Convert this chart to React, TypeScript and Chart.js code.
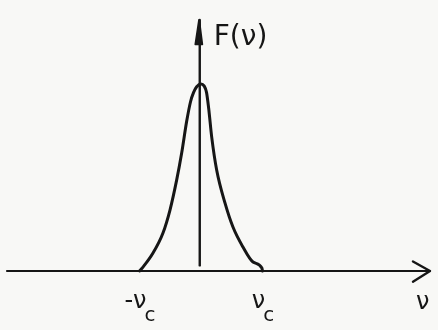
import React, { useEffect, useRef } from "react";
import { Chart, registerables } from "chart.js";

Chart.register(...registerables);

// Bell-shaped spectrum F(ν), in units of ν/ν_c, peak normalised to 1
const curveX = [-1, -0.943, -0.78, -0.618, -0.504, -0.395, -0.314, -0.233, -0.17, -0.12, -0.07, 0, 0.05, 0.09, 0.125, 0.174, 0.255, 0.39, 0.52, 0.683, 0.846, 0.99, 1];
const curveY = [0, 0.021, 0.096, 0.203, 0.326, 0.487, 0.631, 0.8, 0.905, 0.955, 0.985, 1, 0.99, 0.955, 0.87, 0.717, 0.54, 0.364, 0.235, 0.128, 0.048, 0.016, 0];

// Axis extents (data units)
const xAxisRange = [-3.154, 3.724];
const yAxisRange = [0.03, 1.342];
const vAxisX = -0.02;

// Tick labels on the ν axis
const tickValues = [-1, 1];
const tickLabels = ["-ν", "ν"];
const axisTitleX = "ν";
const axisTitleY = "F(ν)";

const ink = "#161616";

const labelsPlugin = {
  id: "sketchLabels",
  afterDatasetsDraw(chart: any) {
    const { ctx, scales } = chart;
    const xs = scales.x;
    const ys = scales.y;
    ctx.save();
    ctx.fillStyle = ink;
    ctx.textBaseline = "alphabetic";
    ctx.textAlign = "left";
    tickValues.forEach((v, i) => {
      const px = xs.getPixelForValue(v);
      const py = ys.getPixelForValue(0);
      const label = tickLabels[i];
      ctx.font = "24px 'DejaVu Sans'";
      const w = ctx.measureText(label).width;
      const left = px - w / 2 - 4;
      ctx.fillText(label, left, py + 37);
      ctx.font = "20px 'DejaVu Sans'";
      ctx.fillText("c", left + w - 2, py + 50);
    });
    ctx.font = "24px 'DejaVu Sans'";
    ctx.fillText(axisTitleX, xs.getPixelForValue(xAxisRange[1]) - 14, ys.getPixelForValue(0) + 38);
    ctx.font = "28px 'DejaVu Sans'";
    ctx.fillText(axisTitleY, xs.getPixelForValue(vAxisX) + 14, ys.getPixelForValue(yAxisRange[1]) + 25);
    ctx.restore();
  },
};

export default function App() {
  const ref = useRef<HTMLCanvasElement | null>(null);

  useEffect(() => {
    if (!ref.current) return;
    const curve = curveX.map((x, i) => ({ x, y: curveY[i] }));
    const line = (data: { x: number; y: number }[], width: number) => ({
      data,
      borderColor: ink,
      backgroundColor: ink,
      borderWidth: width,
      pointRadius: 0,
      tension: 0,
      fill: false as any,
      borderCapStyle: "round" as const,
      borderJoinStyle: "round" as const,
    });
    const chart = new Chart(ref.current, {
      type: "line",
      data: {
        datasets: [
          { ...line(curve, 3), cubicInterpolationMode: "monotone" as const },
          line([{ x: xAxisRange[0], y: 0 }, { x: xAxisRange[1], y: 0 }], 2.2),
          line([{ x: xAxisRange[1] - 0.277, y: 0.051 }, { x: xAxisRange[1], y: 0 }, { x: xAxisRange[1] - 0.277, y: -0.057 }], 2.4),
          line([{ x: vAxisX, y: yAxisRange[0] }, { x: vAxisX, y: yAxisRange[1] }], 2.4),
          {
            ...line([{ x: vAxisX - 0.07, y: yAxisRange[1] - 0.13 }, { x: vAxisX - 0.01, y: yAxisRange[1] }, { x: vAxisX + 0.04, y: yAxisRange[1] - 0.13 }, { x: vAxisX - 0.07, y: yAxisRange[1] - 0.13 }], 2),
            fill: "shape",
          },
        ],
      },
      options: {
        animation: false,
        responsive: false,
        maintainAspectRatio: false,
        layout: { padding: 0 },
        plugins: { legend: { display: false }, tooltip: { enabled: false } },
        scales: {
          x: { type: "linear", display: false, min: -3.268, max: 3.854 },
          y: { type: "linear", display: false, min: -0.3155, max: 1.449 },
        },
      },
      plugins: [labelsPlugin],
    });
    return () => chart.destroy();
  }, []);

  return (
    <div style={{ position: "fixed", left: 0, top: 0, width: 438, height: 330, background: "#f8f8f6" }}>
      <canvas ref={ref} width={438} height={330} style={{ display: "block" }} />
    </div>
  );
}
